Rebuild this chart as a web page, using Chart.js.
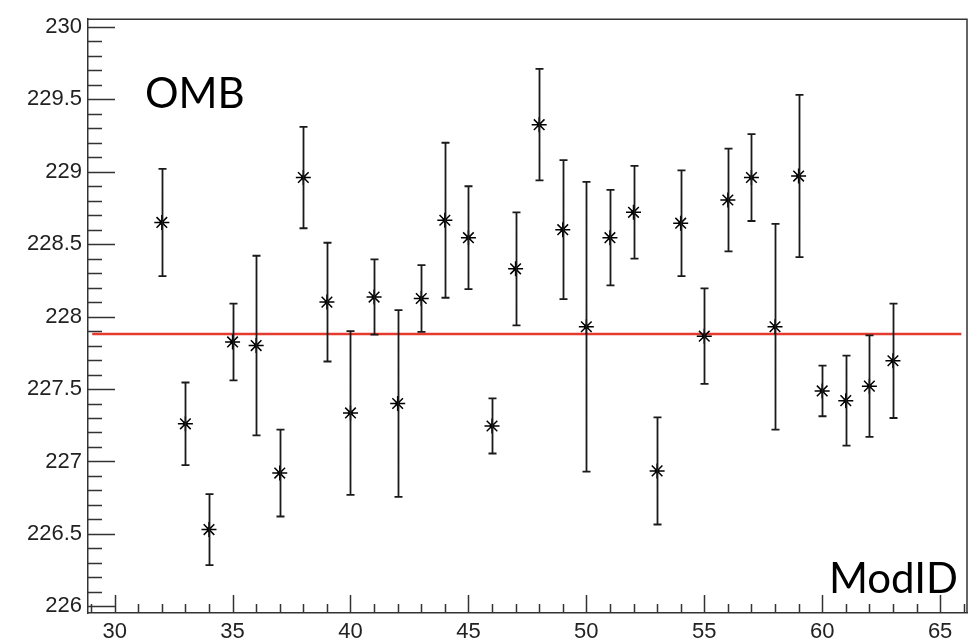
<!DOCTYPE html>
<html>
<head>
<meta charset="utf-8">
<script src="https://cdn.jsdelivr.net/npm/chart.js@4.4.0/dist/chart.umd.min.js"></script>
<style>
  html, body { margin: 0; padding: 0; background: #fff; }
  #wrap { width: 976px; height: 643px; }
</style>
</head>
<body>
<div id="wrap"><canvas id="omb-chart"></canvas></div>
<script>
// ModID on x, OMB value with its error on y
const modId = [32, 33, 34, 35, 36, 37, 38, 39, 40, 41, 42, 43, 44, 45, 46, 47,
  48, 49, 50, 51, 52, 53, 54, 55, 56, 57, 58, 59, 60, 61, 62, 63];
const omb = [228.65, 227.26, 226.53, 227.825, 227.80, 226.92, 228.96, 228.10,
  227.335, 228.135, 227.40, 228.125, 228.665, 228.545, 227.245, 228.33,
  229.325, 228.60, 227.93, 228.545, 228.72, 226.935, 228.645, 227.865,
  228.805, 228.96, 227.93, 228.97, 227.487, 227.42, 227.52, 227.695];
const ombErr = [0.37, 0.285, 0.245, 0.265, 0.62, 0.30, 0.35, 0.41,
  0.565, 0.26, 0.645, 0.23, 0.535, 0.355, 0.19, 0.39,
  0.385, 0.48, 1.0, 0.33, 0.32, 0.37, 0.365, 0.33,
  0.355, 0.30, 0.71, 0.56, 0.175, 0.31, 0.35, 0.395];

// constant fit (red line)
const fitValue = 227.88;
const fitRange = [29.05, 65.9];

const xTicks = [30, 35, 40, 45, 50, 55, 60, 65];
const yTicks = [226, 226.5, 227, 227.5, 228, 228.5, 229, 229.5, 230];

const tickFont = { family: "'Liberation Sans', Arial, sans-serif", size: 22 };
const tickColor = "#222";

// ROOT style: frame on all sides, ticks pointing inside, error bars with caps
const rootFrame = {
  id: "rootFrame",
  afterDatasetsDraw(chart) {
    const { ctx, chartArea: a, scales: { x, y } } = chart;
    ctx.save();
    ctx.strokeStyle = "#333";
    ctx.lineWidth = 1.5;

    // top and right sides of the frame
    ctx.beginPath();
    ctx.moveTo(a.left, a.top);
    ctx.lineTo(a.right, a.top);
    ctx.lineTo(a.right, a.bottom);
    ctx.stroke();

    // y ticks: major every 0.5, minor every 0.1
    ctx.beginPath();
    for (let i = 0; i <= 40; i++) {
      const v = 226 + i * 0.1;
      const py = Math.round(y.getPixelForValue(v)) + 0.5;
      const len = i % 5 === 0 ? 27 : 14;
      ctx.moveTo(a.left, py);
      ctx.lineTo(a.left + len, py);
    }
    // x ticks: major every 5, minor every 1
    for (let v = 29; v <= 66; v++) {
      const px = Math.round(x.getPixelForValue(v)) + 0.5;
      const len = v % 5 === 0 ? 18 : 9;
      ctx.moveTo(px, a.bottom);
      ctx.lineTo(px, a.bottom - len);
    }
    ctx.stroke();

    // error bars
    ctx.strokeStyle = "#1a1a1a";
    ctx.lineWidth = 1.8;
    ctx.beginPath();
    modId.forEach((m, i) => {
      const px = Math.round(x.getPixelForValue(m)) + 0.5;
      const top = y.getPixelForValue(omb[i] + ombErr[i]);
      const bot = y.getPixelForValue(omb[i] - ombErr[i]);
      ctx.moveTo(px, top);
      ctx.lineTo(px, bot);
      ctx.moveTo(px - 4, top);
      ctx.lineTo(px + 4, top);
      ctx.moveTo(px - 4, bot);
      ctx.lineTo(px + 4, bot);
    });
    ctx.stroke();

    // labels inside the frame
    ctx.fillStyle = "#000";
    ctx.font = "42px Lato, 'Open Sans', sans-serif";
    ctx.textBaseline = "alphabetic";
    ctx.textAlign = "left";
    ctx.fillText("OMB", 145, 108);
    ctx.textAlign = "right";
    ctx.fillText("ModID", 958, 593);
    ctx.restore();
  }
};

const ctx = document.getElementById("omb-chart").getContext("2d");
new Chart(ctx, {
  type: "scatter",
  data: {
    datasets: [
      {
        label: "fit",
        type: "line",
        data: fitRange.map(v => ({ x: v, y: fitValue })),
        borderColor: "#e53a2e",
        borderWidth: 2.5,
        pointRadius: 0,
        order: 3
      },
      {
        label: "OMB",
        data: modId.map((m, i) => ({ x: m, y: omb[i] })),
        pointStyle: "star",
        pointRadius: 7.5,
        borderColor: "#000",
        borderWidth: 1.5,
        backgroundColor: "#000",
        order: 1
      },
      {
        label: "centre",
        data: modId.map((m, i) => ({ x: m, y: omb[i] })),
        pointStyle: "circle",
        pointRadius: 2.4,
        borderWidth: 0,
        backgroundColor: "#000",
        order: 0
      }
    ]
  },
  options: {
    responsive: true,
    maintainAspectRatio: false,
    animation: false,
    layout: { padding: { left: 0, right: 5, top: 13, bottom: 0 } },
    plugins: { legend: { display: false }, tooltip: { enabled: false } },
    scales: {
      x: {
        type: "linear",
        min: 28.87,
        max: 66.14,
        afterBuildTicks: s => { s.ticks = xTicks.map(v => ({ value: v })); },
        afterFit: s => { s.height = 30; },
        grid: { display: false, drawTicks: false },
        border: { display: true, color: "#333", width: 1.5 },
        ticks: { font: tickFont, color: tickColor, padding: 6, maxRotation: 0, autoSkip: false, callback: v => String(v) }
      },
      y: {
        type: "linear",
        min: 225.954,
        max: 230.053,
        afterBuildTicks: s => { s.ticks = yTicks.map(v => ({ value: v })); },
        afterFit: s => { s.width = 88; },
        grid: { display: false, drawTicks: false },
        border: { display: true, color: "#333", width: 1.5 },
        ticks: { font: tickFont, color: tickColor, padding: 6, autoSkip: false, callback: v => String(v) }
      }
    }
  },
  plugins: [rootFrame]
});
</script>
</body>
</html>
